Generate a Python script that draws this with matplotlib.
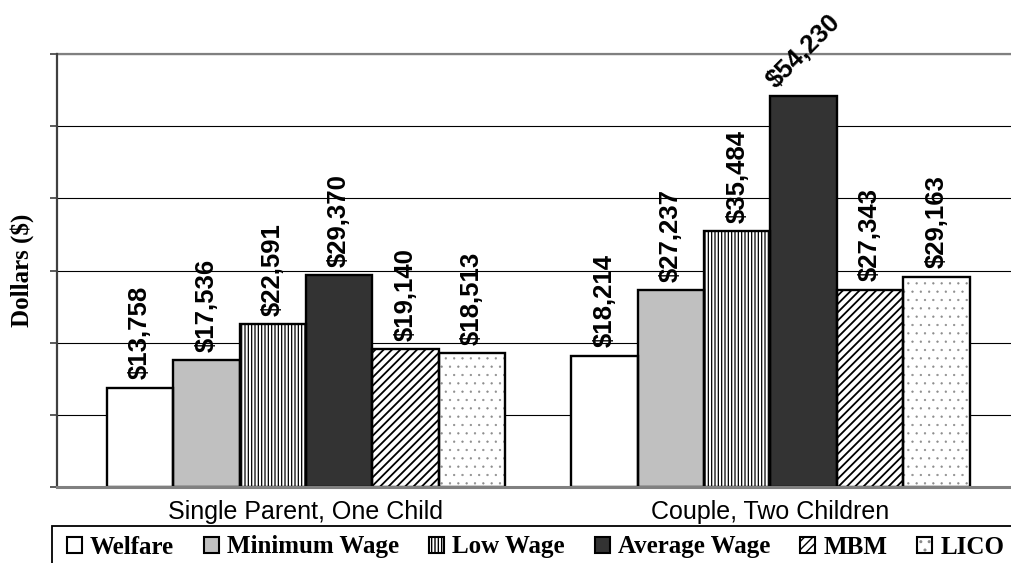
import matplotlib
matplotlib.use("Agg")
import matplotlib.pyplot as plt
import numpy as np
from matplotlib.patches import Patch, Rectangle
from matplotlib.legend_handler import HandlerTuple

categories = ["Single Parent, One Child", "Couple, Two Children"]
series = ["Welfare", "Minimum Wage", "Low Wage", "Average Wage", "MBM", "LICO"]
welfare = [13758, 18214]
minimum_wage = [17536, 27237]
low_wage = [22591, 35484]
average_wage = [29370, 54230]
mbm = [19140, 27343]
lico = [18513, 29163]
values = [welfare, minimum_wage, low_wage, average_wage, mbm, lico]

faces = ["white", "#C0C0C0", "white", "#333333", "white", "white"]
hatches = [None, None, "|||||", None, "////", ".."]
hatch_cols = ["black", "black", "black", "black", "black", "#8C8C8C"]
hatch_lws = [1.0, 1.0, 0.9, 1.0, 1.3, 0.4]

W, H = 1011, 563
fig = plt.figure(figsize=(W / 100, H / 100), dpi=100)
ax = fig.add_axes([57 / W, 1 - 487 / H, 1 - 57 / W, (487 - 54) / H])


def set_hlw(p, lw):
    if hasattr(p, "set_hatch_linewidth"):
        p.set_hatch_linewidth(lw)


x = np.arange(len(categories))
bw = 0.143
for i, (name, vals) in enumerate(zip(series, values)):
    pos = x + (i - 2.5) * bw
    with plt.rc_context({"hatch.linewidth": hatch_lws[i]}):
        bars = ax.bar(pos, vals, bw, color=faces[i], edgecolor=hatch_cols[i],
                      linewidth=0, hatch=hatches[i], zorder=3)
    for b in bars:
        set_hlw(b, hatch_lws[i])
    ax.bar(pos, vals, bw, fill=False, edgecolor="black", linewidth=1.7, zorder=4)
    for px, v in zip(pos, vals):
        rot = 45 if v > 50000 else 90
        off = 2 if rot == 45 else 6
        ax.annotate(f"${v:,}", (px, v), xytext=(0, off), textcoords="offset points",
                    ha="center", va="bottom", rotation=rot, fontsize=18.5,
                    fontweight="bold", family="Liberation Sans", zorder=5,
                    annotation_clip=False)

ax.set_xlim(-0.536, 1.518)
ax.set_ylim(0, 60000)
ax.set_yticks(np.arange(0, 60001, 10000))
ax.set_yticklabels([])
ax.tick_params(axis="y", direction="out", length=5, width=1.2, color="#404040")
ax.set_xticks(x)
ax.set_xticklabels(categories, fontsize=18, family="Liberation Sans")
ax.tick_params(axis="x", length=0, pad=9)
ax.yaxis.grid(True, color="black", linewidth=0.8, zorder=0)
ax.set_axisbelow(True)
ax.axhline(60000, color="#808080", linewidth=1.6, zorder=1, clip_on=False)
for s in ["top", "right"]:
    ax.spines[s].set_visible(False)
ax.spines["left"].set_color("#404040")
ax.spines["left"].set_linewidth(1.6)
ax.spines["bottom"].set_color("#808080")
ax.spines["bottom"].set_linewidth(2.2)
ax.spines["bottom"].set_zorder(6)

fig.text(22 / W, 1 - 270 / H, "Dollars ($)", rotation=90, ha="center", va="center",
         fontsize=18, fontweight="bold", family="Liberation Serif")

handles = []
for i in range(len(series)):
    with plt.rc_context({"hatch.linewidth": hatch_lws[i]}):
        hp = Patch(facecolor=faces[i], edgecolor=hatch_cols[i], linewidth=0,
                   hatch=hatches[i])
    set_hlw(hp, hatch_lws[i])
    handles.append((hp, Patch(fill=False, edgecolor="black", linewidth=1.5)))
leg = fig.legend(handles, series, loc="center left", ncol=6,
                 bbox_to_anchor=(67 / W, 1 - 547 / H), frameon=False,
                 prop={"family": "Liberation Serif", "weight": "bold", "size": 18},
                 handler_map={tuple: HandlerTuple(ndivide=1, pad=0)},
                 handlelength=0.6, handleheight=0.6, handletextpad=0.32,
                 columnspacing=1.2, borderpad=0.0, borderaxespad=0.0)
fig.add_artist(Rectangle((52 / W, 1 - 575 / H), (1030 - 52) / W, (575 - 526) / H,
                         transform=fig.transFigure, fill=False, edgecolor="black",
                         linewidth=1.3, clip_on=False))

fig.savefig("out.png", dpi=100)
